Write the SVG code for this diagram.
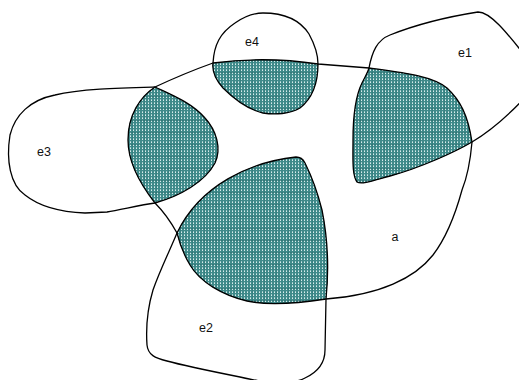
<svg xmlns="http://www.w3.org/2000/svg" width="519" height="380" viewBox="0 0 519 380">
<style>
.ol{fill:none;stroke:#000;stroke-width:1.3;stroke-linejoin:round}
.dots{fill:url(#dots);stroke:none}
.grid{fill:url(#grid);stroke:none}
.lbl{font-family:"Liberation Sans",Arial,sans-serif;font-size:12.5px;fill:#111;text-anchor:middle}
</style>
<defs>
<pattern id="dots" width="3" height="3" patternUnits="userSpaceOnUse">
<rect width="3" height="3" fill="#3f8a8a"/>
<rect x="1" y="0" width="1" height="1" fill="#9fcaca"/>
<rect x="1" y="1" width="1" height="1" fill="#d8ecec"/>
</pattern>
<pattern id="grid" width="12" height="12" patternUnits="userSpaceOnUse">
<rect x="0" y="0" width="12" height="1" fill="#2a7070" opacity="0.6"/>
<rect x="0" y="0" width="1" height="12" fill="#2a7070" opacity="0.4"/>
</pattern>
</defs>
<rect width="519" height="380" fill="#fff"/>
<g id="overlaps">
<path id="s3" d="M155,87 C172,95 192,103 205,118 C216,130 222,148 215,163 C205,182 180,196 155,203 C137,180 128,160 128,140 C128,115 140,97 155,87 Z"/>
<path id="s4" d="M213,63 Q266,56 318,64 C318,80 314,97 300,108 C290,114 275,115 263,113 C250,110 235,100 223,88 C215,79 212,70 213,63 Z"/>
<path id="s1" d="M369,68 C405,73 432,76 447,88 C460,100 468,115 472,142 C455,152 420,168 390,176 C375,180 362,185 357,182 C352,175 353,160 353,140 C353,115 356,95 362,83 C366,75 368,72 369,68 Z"/>
<path id="s2" d="M177,233 C200,185 250,162 296,157 Q302,157 305,163 C311,175 317,190 322,210 C328,240 329,270 326,299 C300,303 270,306 247,301 C222,295 200,282 190,265 C184,255 180,245 177,233 Z"/>
</g>
<use href="#s3" class="dots"/><use href="#s3" class="grid"/>
<use href="#s4" class="dots"/><use href="#s4" class="grid"/>
<use href="#s1" class="dots"/><use href="#s1" class="grid"/>
<use href="#s2" class="dots"/><use href="#s2" class="grid"/>
<g id="a">
<path class="ol" d="M155,87 Q185,73 213,63 Q266,56 318,64 L369,68 C405,73 432,76 447,88 C460,100 468,115 472,142 C470,165 466,180 462,190 C456,212 446,238 433,255 C415,278 380,295 326,299 C300,303 270,306 247,301 C222,295 200,282 190,265 C184,255 180,245 177,233 C172,224 164,212 155,203 C137,180 128,160 128,140 C128,115 140,97 155,87 Z"/>
<text class="lbl" x="395" y="241">a</text>
</g>
<g id="e1">
<path class="ol" d="M369,68 C372,52 377,40 390,35 C410,27 440,18 478,12 C490,12 505,30 530,62 L530,92 C512,112 492,130 472,142 C455,152 420,168 390,176 C375,180 362,185 357,182 C352,175 353,160 353,140 C353,115 356,95 362,83 C366,75 368,72 369,68 Z"/>
<text class="lbl" x="465" y="57">e1</text>
</g>
<g id="e2">
<path class="ol" d="M177,233 C170,250 160,270 153,290 C147,310 146,330 147,345 C148,355 155,358 167,361 C185,366 215,372 240,377 C260,382 290,386 305,378 C318,372 325,362 325,350 L326,299 C329,270 328,240 322,210 C317,190 311,175 305,163 Q302,157 296,157 C250,162 200,185 177,233 Z"/>
<text class="lbl" x="206" y="332">e2</text>
</g>
<g id="e3">
<path class="ol" d="M155,87 C120,88 80,89 55,95 C30,100 15,115 10,135 C6,160 10,185 25,195 C40,207 60,212 85,213 L107,212 C120,210 140,205 155,203 C180,196 205,182 215,163 C222,148 216,130 205,118 C192,103 172,95 155,87 Z"/>
<text class="lbl" x="44" y="156">e3</text>
</g>
<g id="e4">
<path class="ol" d="M213,63 C214,45 220,33 235,23 C245,16 254,13 263,13 C285,13 300,20 309,34 C315,45 318,55 318,64 C318,80 314,97 300,108 C290,114 275,115 263,113 C250,110 235,100 223,88 C215,79 212,70 213,63 Z"/>
<text class="lbl" x="252" y="46">e4</text>
</g>
<g id="connectors"/>
</svg>
